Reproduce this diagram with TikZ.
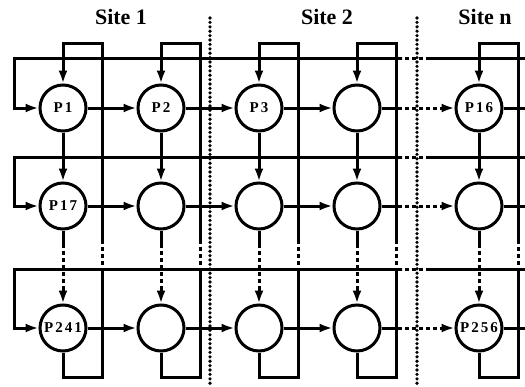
\documentclass[tikz,border=0pt]{standalone}
\usepackage{fontspec}
\newfontfamily\lblfont{Liberation Serif}
\usetikzlibrary{arrows.meta}
\newcommand\lspc{\kern2pt}
\begin{document}
\begin{tikzpicture}[x=1pt,y=-1pt,
  line width=3pt,
  proc/.style={circle,draw,minimum size=46pt,inner sep=0pt,font=\lblfont\fontsize{15}{17}\selectfont\bfseries},
  conn/.style={-{Latex[length=13pt,width=9pt]}},
  gap/.style={dash pattern=on 4pt off 3pt},
  sep/.style={line width=3.6pt,line cap=round,dash pattern=on 0pt off 4.4pt},
  title/.style={font=\lblfont\fontsize{22}{26}\selectfont\bfseries,inner sep=0pt,anchor=base}]
\useasboundingbox (0,0) rectangle (525,386);

% titles
\node[title] (t1) at (121,24) {Site 1};
\node[title] (t2) at (327,24) {Site 2};
\node[title] (t3) at (485,24) {Site n};

% processors
\node[proc] (n11) at (63,108) {P\lspc 1};
\node[proc] (n12) at (161,108) {P\lspc 2};
\node[proc] (n13) at (259,108) {P\lspc 3};
\node[proc] (n14) at (357,108) {};
\node[proc] (n15) at (479,108) {P\lspc 1\lspc 6};
\node[proc] (n21) at (63,206) {P\lspc 1\lspc 7};
\node[proc] (n22) at (161,206) {};
\node[proc] (n23) at (259,206) {};
\node[proc] (n24) at (357,206) {};
\node[proc] (n25) at (479,206) {};
\node[proc] (n31) at (63,328) {P\lspc 2\lspc 4\lspc 1};
\node[proc] (n32) at (161,328) {};
\node[proc] (n33) at (259,328) {};
\node[proc] (n34) at (357,328) {};
\node[proc] (n35) at (479,328) {P\lspc 2\lspc 5\lspc 6};

% separators
\coordinate (s1t) at (210,18);
\coordinate (s1b) at (210,386);
\coordinate (s2t) at (417,18);
\coordinate (s2b) at (417,386);
\draw[sep] (s1t) -- (s1b);
\draw[sep] (s2t) -- (s2b);

% columns
\foreach \c/\x/\X in {1/63/102,2/161/200,3/259/298,4/357/396,5/479/518} {
  \draw[conn] (n1\c) -- (n2\c);
  \coordinate (va\c) at (\x,244);
  \coordinate (vb\c) at (\x,288);
  \draw (n2\c) -- (va\c);
  \draw[gap] (va\c) -- (vb\c);
  \draw[conn] (vb\c) -- (n3\c);
  \coordinate (lb\c) at (\x,377);
  \coordinate (lr\c) at (\X,377);
  \coordinate (lg\c) at (\X,272);
  \coordinate (lh\c) at (\X,240);
  \coordinate (lt\c) at (\X,43);
  \draw (n3\c) -- (lb\c) -- (lr\c) -- (lg\c);
  \draw[gap] (lg\c) -- (lh\c);
  \draw[conn] (lh\c) -- (lt\c) -| (n1\c);
}

% rows
\foreach \r/\y/\L in {1/108/58,2/206/157,3/328/269} {
  \draw[conn] (n\r1) -- (n\r2);
  \draw[conn] (n\r2) -- (n\r3);
  \draw[conn] (n\r3) -- (n\r4);
  \coordinate (ha\r) at (398,\y);
  \coordinate (hb\r) at (440,\y);
  \draw (n\r4) -- (ha\r);
  \draw[gap] (ha\r) -- (hb\r);
  \draw[conn] (hb\r) -- (n\r5);
  \coordinate (ho\r) at (525,\y);
  \draw (n\r5) -- (ho\r);
  \coordinate (wr\r) at (525,\L);
  \coordinate (wa\r) at (430,\L);
  \coordinate (wb\r) at (402,\L);
  \coordinate (wl\r) at (14,\L);
  \draw (wr\r) -- (wa\r);
  \draw[gap] (wa\r) -- (wb\r);
  \draw[conn] (wb\r) -- (wl\r) |- (n\r1);
}
\end{tikzpicture}
\end{document}
